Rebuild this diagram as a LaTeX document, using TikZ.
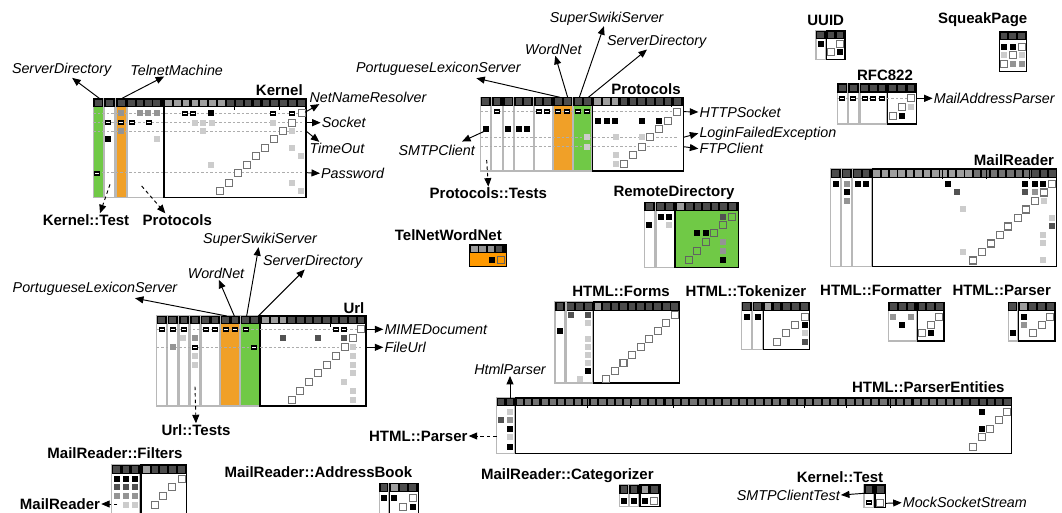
\documentclass[tikz,border=0pt]{standalone}
\usepackage{fontspec}
\setmainfont{Liberation Sans}
\usetikzlibrary{arrows.meta}
\definecolor{dsmgreen}{RGB}{112,201,70}
\definecolor{dsmorange}{RGB}{240,160,40}
\definecolor{tnorange}{RGB}{255,153,0}
\colorlet{hdk}{black!70}
\colorlet{hmd}{black!55}
\colorlet{hlt}{black!38}
\colorlet{dgr}{black!68}
\colorlet{mgr}{black!42}
\colorlet{lgr}{black!20}
\newcommand\dsmdot[3]{\fill[#3] (#1,#2) ++(-3pt,-3pt) rectangle ++(6pt,6pt);}
\newcommand\dsmdiag[2]{\draw[diagst] (#1,#2) ++(-3.5pt,-3.5pt) rectangle ++(7pt,7pt);}
\newcommand\dsmdiagT[2]{\draw[diagT] (#1,#2) ++(-3.5pt,-3.5pt) rectangle ++(7pt,7pt);}
\newcommand\dsmH[2]{\fill[black] (#1,#2) ++(-3pt,-2.7pt) rectangle ++(6pt,5.4pt);\draw[white,line width=0.7pt] (#1,#2) ++(-2pt,0pt) -- ++(4pt,0pt);}
\newcommand\dsmhd[3]{\fill[#3] (#1,#2) ++(-3.3pt,-3.3pt) rectangle ++(6.6pt,6.6pt);}
\tikzset{
  grp/.style={draw=black!28,line width=1.3pt},
  mainf/.style={draw=black,line width=1.3pt},
  diagst/.style={draw=black!55,line width=1.1pt,fill=white},
  diagT/.style={draw=black!62,line width=1.1pt},
  dl/.style={draw=black!32,line width=0.6pt,dash pattern=on 2.5pt off 2pt},
  arr/.style={-{Triangle[length=8.5pt,width=7pt]},line width=0.95pt,black},
  darr/.style={arr,dash pattern=on 3.5pt off 3pt},
  lblb/.style={font=\fontsize{15}{17}\selectfont\bfseries,inner sep=1pt},
  lbli/.style={font=\fontsize{14.3}{16}\selectfont\itshape,inner sep=1pt},
  tick/.style={draw=black,line width=1pt}
}
\begin{document}
\begin{tikzpicture}[x=1pt,y=-1pt]
\useasboundingbox (0,0) rectangle (1062,513);
\fill[white] (0,0) rectangle (1062,513);

%================ Kernel
\begin{scope}[shift={(0,55)},x=0.33333pt,y=-0.33333pt]
\fill[dsmgreen] (280,157) rectangle (310,428);
\fill[dsmorange] (348,157) rectangle (380,428);
\draw[grp] (280,130) rectangle (310,428);
\draw[grp] (313,130) rectangle (345,428);
\draw[grp] (348,130) rectangle (380,428);
\draw[grp] (382,130) rectangle (490,428);
\draw[mainf] (492,130) rectangle (918,428);
\fill[black] (280,130) rectangle (310,157);
\fill[black] (313,130) rectangle (345,157);
\fill[black] (348,130) rectangle (380,157);
\fill[black] (382,130) rectangle (490,157);
\fill[black] (492,130) rectangle (918,157);
\dsmhd{295}{143.5}{hdk}\dsmhd{329}{143.5}{hdk}\dsmhd{364}{143.5}{hdk}
\foreach \i in {0,...,3}{\dsmhd{395+25*\i}{143.5}{hdk}}
\foreach \i in {0,...,6}{\dsmhd{505+26.6*\i}{143.5}{hlt}}
\foreach \i in {7,...,15}{\dsmhd{505+26.6*\i}{143.5}{hdk}}
\draw[tick] (705,130) -- (705,165);
\draw[tick] (838,130) -- (838,165);
\foreach \yy in {175,203,228,353}{\draw[dl] (280,\yy) -- (905,\yy);}
\dsmdot{362}{175}{mgr}\dsmdot{420}{175}{mgr}\dsmdot{445}{175}{mgr}\dsmdot{470}{175}{mgr}
\dsmH{555}{175}\dsmH{580}{175}\dsmdot{632}{175}{black}\dsmH{820}{175}\dsmH{875}{175}
\dsmH{325}{203}\dsmH{362}{203}\dsmH{395}{203}\dsmH{448}{203}
\dsmdot{585}{203}{lgr}\dsmdot{610}{203}{lgr}\dsmdot{635}{203}{lgr}\dsmdot{820}{203}{lgr}
\dsmdot{362}{228}{mgr}\dsmdot{610}{228}{lgr}\dsmdot{877}{228}{lgr}
\dsmdot{325}{253}{black}\dsmdot{472}{253}{lgr}
\dsmdot{877}{278}{lgr}
\dsmdot{902}{303}{lgr}
\dsmdot{632}{330}{lgr}
\dsmH{292}{355}
\dsmdot{877}{383}{lgr}
\dsmdot{902}{408}{lgr}
\dsmdiag{905}{175}\dsmdiag{877}{203}\dsmdiag{850}{228}\dsmdiag{822}{253}\dsmdiag{795}{278}
\dsmdiag{768}{303}\dsmdiag{742}{330}\dsmdiag{715}{355}\dsmdiag{688}{383}\dsmdiag{660}{408}
\node[lbli] (kSD) at (185,45) {ServerDirectory};
\node[lbli] (kTM) at (530,45) {TelnetMachine};
\node[lblb] (kTitle) at (838,106) {Kernel};
\node[lbli,anchor=west] (kNNR) at (925,128) {NetNameResolver};
\node[lbli,anchor=west] (kSock) at (962,203) {Socket};
\node[lbli,anchor=west] (kTO) at (925,280) {TimeOut};
\node[lbli,anchor=west] (kPW) at (960,355) {Password};
\node[lblb] (kKT) at (258,495) {Kernel::Test};
\node[lblb] (kProt) at (532,495) {Protocols};
\coordinate (kA1) at (298,130);
\coordinate (kA2) at (366,130);
\coordinate (kR1) at (915,172);
\coordinate (kR2) at (918,203);
\coordinate (kR3) at (918,228);
\coordinate (kR8) at (918,353);
\coordinate (kB1) at (330,388);
\coordinate (kB2) at (425,393);
\draw[arr] (kA1) -- (kSD);
\draw[arr] (kA2) -- (kTM);
\draw[arr] (kR1) -- ([xshift=11pt]kNNR.south west);
\draw[arr] (kR2) -- (kSock.west);
\draw[arr] (kR3) -- ([xshift=11pt]kTO.north west);
\draw[arr] (kR8) -- (kPW.west);
\draw[darr] (kB1) -- ([xshift=14pt]kKT.north);
\draw[darr] (kB2) -- ([xshift=-12pt]kProt.north);
\end{scope}

%================ Protocols
\begin{scope}[shift={(340,0)},x=0.33333pt,y=-0.33333pt]
\fill[dsmorange] (640,318) rectangle (697,513);
\fill[dsmgreen] (700,318) rectangle (755,513);
\foreach \a/\b in {422/452,455/488,490/520,523/580,583/638,640/697,700/755}{\draw[grp] (\a,292) rectangle (\b,513);\fill[black] (\a,292) rectangle (\b,318);}
\draw[mainf] (758,292) rectangle (1030,513);
\fill[black] (758,292) rectangle (1030,318);
\foreach \xx in {437,471,505,537,562,597,622,655,682,715,742}{\dsmhd{\xx}{305}{hdk}}
\foreach \i in {0,...,2}{\dsmhd{772+26.67*\i}{305}{hlt}}
\foreach \i in {3,...,9}{\dsmhd{772+26.67*\i}{305}{hdk}}
\draw[tick] (995,292) -- (995,322);
\foreach \yy in {335,412,440}{\draw[dl] (422,\yy) -- (1012,\yy);}
\dsmH{470}{335}\dsmH{597}{335}\dsmH{622}{335}\dsmH{655}{335}\dsmH{682}{335}\dsmH{715}{335}\dsmH{742}{335}
\foreach \xx in {775,800,825,905,957}{\dsmdot{\xx}{362}{black}}
\foreach \xx in {437,505,537,562}{\dsmdot{\xx}{387}{black}}
\dsmdot{742}{412}{lgr}\dsmdot{827}{412}{lgr}\dsmdot{905}{412}{lgr}
\dsmdot{742}{440}{lgr}
\dsmdot{827}{465}{lgr}
\dsmdot{827}{492}{lgr}
\dsmdiag{1012}{335}\dsmdiag{985}{362}\dsmdiag{957}{387}\dsmdiag{930}{412}
\dsmdiag{905}{440}\dsmdiag{878}{465}\dsmdiag{852}{492}
\node[lblb] (pTitle) at (918,266) {Protocols};
\node[lbli] (pPLS) at (295,205) {PortugueseLexiconServer};
\node[lbli] (pWN) at (640,148) {WordNet};
\node[lbli] (pSSS) at (800,55) {SuperSwikiServer};
\node[lbli] (pSD) at (950,125) {ServerDirectory};
\node[lbli] (pSMTP) at (290,450) {SMTPClient};
\node[lbli,anchor=west] (pHTTP) at (1075,336) {HTTPSocket};
\node[lbli,anchor=west] (pLFE) at (1075,400) {LoginFailedException};
\node[lbli,anchor=west] (pFTP) at (1075,446) {FTPClient};
\node[lblb] (pTests) at (445,580) {Protocols::Tests};
\coordinate (pO1) at (660,292);
\coordinate (pO2) at (683,292);
\coordinate (pG1) at (718,292);
\coordinate (pG2) at (745,292);
\coordinate (pC1) at (437,392);
\coordinate (pR1) at (1030,335);
\coordinate (pR4) at (1030,412);
\coordinate (pR5) at (1030,440);
\coordinate (pT1) at (440,480);
\draw[arr] (pO1) -- ([xshift=38pt,yshift=-2pt]pPLS.south);
\draw[arr] (pO2) -- (pWN);
\draw[arr] (pG1) -- (pSSS);
\draw[arr] (pG2) -- (pSD);
\draw[arr] (pC1) -- ([xshift=-14pt,yshift=2pt]pSMTP.north east);
\draw[arr] (pR1) -- (pHTTP.west);
\draw[arr] (pR4) -- (pLFE.west);
\draw[arr] (pR5) -- (pFTP.west);
\draw[darr] (pT1) -- (pTests.north);
\end{scope}

%================ Url
\begin{scope}[shift={(0,230)},x=0.33333pt,y=-0.33333pt]
\fill[dsmorange] (662,283) rectangle (720,528);
\fill[dsmgreen] (722,283) rectangle (778,528);
\foreach \a/\b in {470/500,503/533,537/567,570/600,603/660,662/720,722/778}{\draw[grp] (\a,257) rectangle (\b,528);\fill[black] (\a,257) rectangle (\b,283);}
\draw[mainf] (780,257) rectangle (1098,528);
\fill[black] (780,257) rectangle (1098,283);
\foreach \xx in {485,518,552,585,617,645,677,705,737,763}{\dsmhd{\xx}{270}{hdk}}
\foreach \i in {0,...,2}{\dsmhd{797+26*\i}{270}{hlt}}
\foreach \i in {3,...,11}{\dsmhd{797+26*\i}{270}{hdk}}
\draw[tick] (993,257) -- (993,290);
\draw[dl] (470,298) -- (1083,298);
\draw[dl] (470,352) -- (1083,352);
\foreach \xx in {485,518,552,618,645,677,705,737,1008,1033}{\dsmH{\xx}{298}}
\dsmdot{550}{325}{lgr}\dsmdot{585}{325}{mgr}\dsmdot{848}{325}{dgr}\dsmdot{953}{325}{dgr}\dsmdot{1033}{325}{dgr}
\dsmdot{518}{352}{mgr}\dsmH{585}{352}\dsmH{763}{352}\dsmdot{1058}{352}{lgr}
\dsmdot{585}{378}{lgr}\dsmdot{1058}{378}{lgr}
\dsmdot{585}{405}{lgr}\dsmdot{1058}{405}{lgr}
\dsmdot{1058}{430}{lgr}
\dsmdot{1033}{457}{lgr}
\dsmdot{1058}{483}{lgr}
\dsmdot{1058}{510}{lgr}
\dsmdiag{1083}{298}\dsmdiag{1058}{325}\dsmdiag{1035}{352}\dsmdiag{1008}{378}\dsmdiag{980}{405}
\dsmdiag{953}{430}\dsmdiag{927}{457}\dsmdiag{900}{483}\dsmdiag{875}{510}
\node[lblb] (uTitle) at (1062,233) {Url};
\node[lbli] (uPLS) at (285,175) {PortugueseLexiconServer};
\node[lbli] (uWN) at (648,130) {WordNet};
\node[lbli] (uSSS) at (780,28) {SuperSwikiServer};
\node[lbli] (uSD) at (938,95) {ServerDirectory};
\node[lbli,anchor=west] (uMIME) at (1150,298) {MIMEDocument};
\node[lbli,anchor=west] (uFile) at (1150,352) {FileUrl};
\node[lblb] (uTests) at (588,600) {Url::Tests};
\coordinate (uO1) at (680,258);
\coordinate (uO2) at (703,258);
\coordinate (uG1) at (740,258);
\coordinate (uG2) at (775,258);
\coordinate (uR1) at (1098,298);
\coordinate (uR3) at (1098,352);
\coordinate (uT1) at (585,470);
\draw[arr] (uO1) -- ([xshift=40pt,yshift=-2pt]uPLS.south);
\draw[arr] (uO2) -- (uWN);
\draw[arr] (uG1) -- (uSSS);
\draw[arr] (uG2) -- (uSD);
\draw[arr] (uR1) -- (uMIME.west);
\draw[arr] (uR3) -- (uFile.west);
\draw[darr] (uT1) -- (uTests.north);
\end{scope}

%================ TelNetWordNet
\begin{scope}[shift={(380,220)},x=0.33333pt,y=-0.33333pt]
\node[lblb] (tnTitle) at (205,45) {TelNetWordNet};
\fill[tnorange] (268,100) rectangle (380,140);
\fill[black] (268,73) rectangle (380,100);
\dsmhd{283}{87}{hlt}\dsmhd{308}{87}{mgr}\dsmhd{333}{87}{mgr}\dsmhd{357}{87}{hdk}
\draw[mainf] (268,73) rectangle (380,140);
\dsmdot{337}{120}{black}
\dsmdiagT{363}{120}
\end{scope}

%================ RemoteDirectory
\begin{scope}[shift={(540,180)},x=0.33333pt,y=-0.33333pt]
\node[lblb] (rdTitle) at (402,38) {RemoteDirectory};
\fill[dsmgreen] (405,93) rectangle (595,262);
\draw[grp] (313,67) rectangle (345,262);
\draw[grp] (348,67) rectangle (403,262);
\draw[mainf] (405,67) rectangle (595,262);
\fill[black] (313,67) rectangle (345,93);
\fill[black] (348,67) rectangle (403,93);
\fill[black] (405,67) rectangle (595,93);
\dsmhd{328}{80}{hdk}\dsmhd{362}{80}{hdk}\dsmhd{388}{80}{hdk}
\dsmhd{422}{80}{hlt}
\foreach \i in {1,...,6}{\dsmhd{422+25.8*\i}{80}{hdk}}
\dsmdot{362}{110}{black}\dsmdot{388}{110}{black}\dsmdot{550}{110}{dgr}
\dsmdot{328}{135}{black}\dsmdot{388}{135}{lgr}
\dsmdot{472}{160}{black}\dsmdot{497}{160}{black}
\dsmdot{550}{187}{mgr}
\dsmdot{550}{213}{mgr}
\dsmdot{550}{240}{black}
\dsmdiagT{577}{110}\dsmdiagT{550}{135}\dsmdiagT{523}{160}\dsmdiagT{497}{187}\dsmdiagT{472}{213}\dsmdiagT{447}{240}
\end{scope}

%================ HTML::Forms (pixel coordinates)
\node[lblb] (hfTitle) at (621,291) {HTML::Forms};
\draw[grp] (555,301.7) rectangle (565,383);
\draw[grp] (566.5,301.7) rectangle (592.5,383);
\draw[mainf] (593.5,301.7) rectangle (679.5,383);
\fill[black] (555,301.7) rectangle (565,310.7);
\fill[black] (566.5,301.7) rectangle (592.5,310.7);
\fill[black] (593.5,301.7) rectangle (679.5,310.7);
\dsmhd{560}{306.2}{hdk}\dsmhd{570.5}{306.2}{hdk}\dsmhd{579.5}{306.2}{hdk}\dsmhd{588.3}{306.2}{hdk}
\dsmhd{597.8}{306.2}{hlt}
\foreach \i in {1,...,9}{\dsmhd{597.8+8.55*\i}{306.2}{hdk}}
\dsmdot{570.5}{315}{dgr}\dsmdot{588.3}{315}{dgr}
\dsmdot{588.3}{323}{lgr}
\dsmdot{560}{331}{black}
\dsmdot{588.3}{339}{lgr}
\dsmdot{588.3}{347}{lgr}
\dsmdot{588.3}{355}{lgr}
\dsmdot{588.3}{363}{lgr}
\dsmdot{588.3}{371}{black}
\dsmdot{579.5}{378.5}{lgr}
\foreach \r in {0,...,8}{\dsmdiag{674.8-8.55*\r}{315+8*\r}}

%================ HTML::Tokenizer / Formatter / Parser
\begin{scope}[shift={(730,270)},x=0.33333pt,y=-0.33333pt]
\node[lblb] (htTitle) at (48,62) {HTML::Tokenizer};
\draw[grp] (35,97) rectangle (65,238);
\draw[grp] (68,97) rectangle (98,238);
\draw[mainf] (100,97) rectangle (238,238);
\fill[black] (35,97) rectangle (65,122);
\fill[black] (68,97) rectangle (98,122);
\fill[black] (100,97) rectangle (238,122);
\dsmhd{50}{110}{hdk}\dsmhd{83}{110}{hdk}\dsmhd{114}{110}{hlt}
\foreach \xx in {141,169,196,224}{\dsmhd{\xx}{110}{hdk}}
\dsmdot{50}{140}{black}\dsmdot{83}{140}{black}
\dsmdot{224}{165}{black}\dsmdot{224}{190}{lgr}\dsmdot{224}{217}{dgr}
\dsmdiag{224}{140}\dsmdiag{196}{165}\dsmdiag{169}{190}\dsmdiag{141}{217}
\node[lblb] (hfmTitle) at (453,62) {HTML::Formatter};
\draw[grp] (475,97) rectangle (560,213);
\draw[mainf] (562,97) rectangle (642,213);
\fill[black] (475,97) rectangle (560,122);
\fill[black] (562,97) rectangle (642,122);
\foreach \xx in {490,517,543,576,602,628}{\dsmhd{\xx}{110}{hdk}}
\dsmdot{490}{140}{mgr}\dsmdot{543}{140}{mgr}
\dsmdot{517}{165}{black}
\dsmdot{602}{190}{black}
\dsmdiag{628}{140}\dsmdiag{602}{165}\dsmdiag{576}{190}
\node[lblb] (hpTitle) at (815,62) {HTML::Parser};
\draw[grp] (835,97) rectangle (862,213);
\draw[mainf] (865,97) rectangle (975,213);
\fill[black] (835,97) rectangle (862,122);
\fill[black] (865,97) rectangle (975,122);
\dsmhd{848}{110}{hdk}\dsmhd{881}{110}{hlt}
\foreach \xx in {908,935,961}{\dsmhd{\xx}{110}{hdk}}
\dsmdot{881}{140}{black}\dsmdot{881}{165}{mgr}\dsmdot{848}{190}{black}
\dsmdiag{961}{140}\dsmdiag{935}{165}\dsmdiag{908}{190}
\end{scope}

%================ UUID / SqueakPage / RFC822
\begin{scope}[shift={(780,0)},x=0.33333pt,y=-0.33333pt]
\node[lblb] (uuTitle) at (137,60) {UUID};
\draw[grp] (108,92) rectangle (137,178);
\draw[mainf] (140,92) rectangle (195,178);
\fill[black] (108,92) rectangle (137,118);
\fill[black] (140,92) rectangle (195,118);
\dsmhd{122}{105}{hdk}\dsmhd{153}{105}{hdk}\dsmhd{180}{105}{hdk}
\dsmdot{122}{132}{black}\dsmdot{180}{157}{black}
\dsmdiag{180}{132}\dsmdiag{153}{157}
\node[lblb] (sqTitle) at (608,60) {SqueakPage};
\draw[mainf] (658,95) rectangle (740,215);
\fill[black] (658,95) rectangle (740,121);
\dsmhd{672}{108}{hdk}\dsmhd{698}{108}{hdk}\dsmhd{725}{108}{hdk}
\dsmdot{672}{140}{black}\dsmdot{698}{140}{black}
\dsmdot{672}{165}{lgr}\dsmdot{725}{165}{lgr}
\dsmdot{698}{192}{mgr}\dsmdot{725}{192}{mgr}
\dsmdiag{725}{140}\dsmdiag{698}{165}\dsmdiag{672}{192}
\node[lblb] (rfTitle) at (315,226) {RFC822};
\draw[grp] (172,250) rectangle (202,372);
\draw[grp] (205,250) rectangle (237,372);
\draw[grp] (240,250) rectangle (320,372);
\draw[mainf] (323,250) rectangle (410,372);
\fill[black] (172,250) rectangle (202,278);
\fill[black] (205,250) rectangle (237,278);
\fill[black] (240,250) rectangle (320,278);
\fill[black] (323,250) rectangle (410,278);
\foreach \xx in {187,220,254,280,306,338,365,393}{\dsmhd{\xx}{264}{hdk}}
\draw[dl] (172,295) -- (393,295);
\foreach \xx in {187,220,254,280,306}{\dsmH{\xx}{295}}
\dsmdot{393}{322}{lgr}\dsmdot{365}{347}{black}
\dsmdiag{393}{295}\dsmdiag{365}{322}\dsmdiag{338}{347}
\node[lbli,anchor=west] (rfMAP) at (458,295) {MailAddressParser};
\coordinate (rfR1) at (410,295);
\draw[arr] (rfR1) -- (rfMAP.west);
\end{scope}

%================ MailReader
\begin{scope}[shift={(790,145)},x=0.33333pt,y=-0.33333pt]
\node[lblb] (mrTitle) at (672,46) {MailReader};
\draw[grp] (122,72) rectangle (152,365);
\draw[grp] (155,72) rectangle (185,365);
\draw[grp] (188,72) rectangle (245,365);
\draw[mainf] (247,72) rectangle (800,365);
\fill[black] (122,72) rectangle (152,98);
\fill[black] (155,72) rectangle (185,98);
\fill[black] (188,72) rectangle (245,98);
\fill[black] (247,72) rectangle (800,98);
\dsmhd{137}{85}{hdk}\dsmhd{170}{85}{hdk}\dsmhd{203}{85}{hdk}\dsmhd{228}{85}{hdk}
\foreach \i in {0,...,11}{\dsmhd{260+25.1*\i}{85}{hlt}}
\foreach \i in {12,...,18}{\dsmhd{260+25.1*\i}{85}{hmd}}
\foreach \i in {19,...,21}{\dsmhd{260+25.1*\i}{85}{hdk}}
\draw[tick] (458,72) -- (458,103);
\draw[tick] (588,72) -- (588,103);
\draw[tick] (718,72) -- (718,103);
\dsmdot{137}{117}{black}\dsmdot{170}{117}{mgr}\dsmdot{203}{117}{black}\dsmdot{228}{117}{black}
\dsmdot{475}{117}{black}\dsmdot{705}{117}{black}\dsmdot{735}{117}{black}\dsmdot{760}{117}{black}
\dsmdot{170}{142.5}{black}\dsmdot{500}{142.5}{dgr}\dsmdot{705}{142.5}{dgr}\dsmdot{735}{142.5}{mgr}
\dsmdot{170}{168}{mgr}\dsmdot{762}{168}{lgr}
\dsmdot{520}{193.5}{lgr}
\dsmdot{785}{219}{lgr}
\dsmdot{785}{244.5}{dgr}
\dsmdot{760}{270}{lgr}
\dsmdot{760}{295.5}{lgr}
\dsmdot{520}{321}{lgr}
\dsmdot{760}{346.5}{lgr}
\dsmdiag{787}{117}\dsmdiag{762}{142.5}\dsmdiag{735}{168}\dsmdiag{708}{193.5}\dsmdiag{683}{219}
\dsmdiag{655}{244.5}\dsmdiag{630}{270}\dsmdiag{603}{295.5}\dsmdiag{575}{321}\dsmdiag{548}{346.5}
\end{scope}

%================ HTML::ParserEntities (pixel coordinates)
\node[lblb] (peTitle) at (928.3,387) {HTML::ParserEntities};
\draw[grp] (496.7,397.7) rectangle (515,453.3);
\draw[mainf] (515.7,397.7) rectangle (1011.7,453.3);
\fill[black] (496.7,397.7) rectangle (515,406);
\fill[black] (515.7,397.7) rectangle (1011.7,406);
\dsmhd{501}{401.8}{hdk}\dsmhd{510}{401.8}{hdk}
\foreach \i in {0,...,53}{\fill[hmd] (519.8+8.267*\i,401.8) ++(-3.1pt,-3pt) rectangle ++(6.2pt,6pt);}
\foreach \i in {54,...,59}{\fill[hdk] (519.8+8.267*\i,401.8) ++(-3.1pt,-3pt) rectangle ++(6.2pt,6pt);}
\foreach \xx in {587.7,630,673.3,804,846.7,890}{\draw[tick] (\xx,397.7) -- (\xx,408);}
\dsmdot{510}{411.7}{lgr}
\dsmdot{501}{420}{dgr}\dsmdot{510}{420}{mgr}
\dsmdot{510}{429}{black}
\dsmdot{510}{437.3}{lgr}
\dsmdot{510}{446.7}{black}
\dsmdot{981.7}{411.7}{black}\dsmdot{981.7}{429}{black}
\dsmdiag{1007.3}{411.7}\dsmdiag{999}{420}\dsmdiag{990}{429}\dsmdiag{981.7}{437.3}\dsmdiag{972.7}{446.7}
\node[lbli] (peHP) at (510,369.5) {HtmlParser};
\node[lblb] (peHTMLP) at (418.3,436) {HTML::Parser};
\coordinate (peT) at (510,397.7);
\coordinate (peL) at (496.7,436);
\draw[arr] (peT) -- (peHP.south);
\draw[darr] (peL) -- (peHTMLP.east);

%================ Kernel::Test
\begin{scope}[shift={(700,350)},x=0.33333pt,y=-0.33333pt]
\node[lblb] (ktTitle) at (420,381) {Kernel::Test};
\draw[grp] (492,403) rectangle (522,473);
\draw[mainf] (525,403) rectangle (557,473);
\fill[black] (492,403) rectangle (522,432);
\fill[black] (525,403) rectangle (557,432);
\dsmhd{507}{418}{hdk}\dsmhd{541}{418}{hdk}
\dsmH{507}{458}
\dsmdiag{541}{458}
\node[lbli] (ktSMTP) at (265,435) {SMTPClientTest};
\node[lbli,anchor=west] (ktMSS) at (605,458) {MockSocketStream};
\coordinate (ktL) at (492,430);
\coordinate (ktR) at (557,460);
\draw[arr] (ktL) -- (ktSMTP.east);
\draw[arr] (ktR) -- (ktMSS.west);
\end{scope}

%================ MailReader::Filters / AddressBook
\begin{scope}[shift={(0,430)},x=0.33333pt,y=-0.33333pt]
\node[lblb] (mfTitle) at (345,70) {MailReader::Filters};
\draw[grp] (335,105) rectangle (420,252);
\draw[mainf] (423,105) rectangle (560,252);
\fill[black] (335,105) rectangle (420,131);
\fill[black] (423,105) rectangle (560,131);
\foreach \xx in {350,378,405,465,490,517,545}{\dsmhd{\xx}{118}{hdk}}
\dsmhd{440}{118}{hlt}
\foreach \xx in {350,378,405}{\dsmdot{\xx}{148}{black}\dsmdot{\xx}{172}{dgr}\dsmdot{\xx}{198}{mgr}}
\dsmdot{378}{225}{lgr}\dsmdot{405}{225}{lgr}
\dsmdiag{545}{148}\dsmdiag{517}{172}\dsmdiag{490}{198}\dsmdiag{465}{225}
\node[lblb] (mfMR) at (180,222) {MailReader};
\coordinate (mfL) at (352,222);
\draw[darr] (mfL) -- (mfMR.east);
\node[lblb] (maTitle) at (955,125) {MailReader::AddressBook};
\draw[grp] (1138,160) rectangle (1165,252);
\draw[mainf] (1168,160) rectangle (1255,252);
\fill[black] (1138,160) rectangle (1165,186);
\fill[black] (1168,160) rectangle (1255,186);
\dsmhd{1152}{173}{hdk}\dsmhd{1183}{173}{hlt}\dsmhd{1210}{173}{hdk}\dsmhd{1238}{173}{hdk}
\dsmdot{1152}{205}{black}\dsmdot{1183}{205}{black}\dsmdot{1238}{232}{black}
\dsmdiag{1238}{205}\dsmdiag{1210}{232}
\end{scope}

%================ MailReader::Categorizer
\begin{scope}[shift={(360,350)},x=0.33333pt,y=-0.33333pt]
\node[lblb] (mcTitle) at (622,378) {MailReader::Categorizer};
\draw[grp] (778,405) rectangle (805,470);
\draw[grp] (808,405) rectangle (837,470);
\draw[mainf] (840,405) rectangle (900,470);
\fill[black] (778,405) rectangle (805,431);
\fill[black] (808,405) rectangle (837,431);
\fill[black] (840,405) rectangle (900,431);
\dsmhd{792}{418}{hdk}\dsmhd{822}{418}{hdk}\dsmhd{855}{418}{hlt}\dsmhd{883}{418}{hdk}
\dsmdot{792}{452}{black}\dsmdot{822}{452}{black}\dsmdot{855}{452}{black}
\dsmdiag{883}{452}
\end{scope}
\end{tikzpicture}
\end{document}
